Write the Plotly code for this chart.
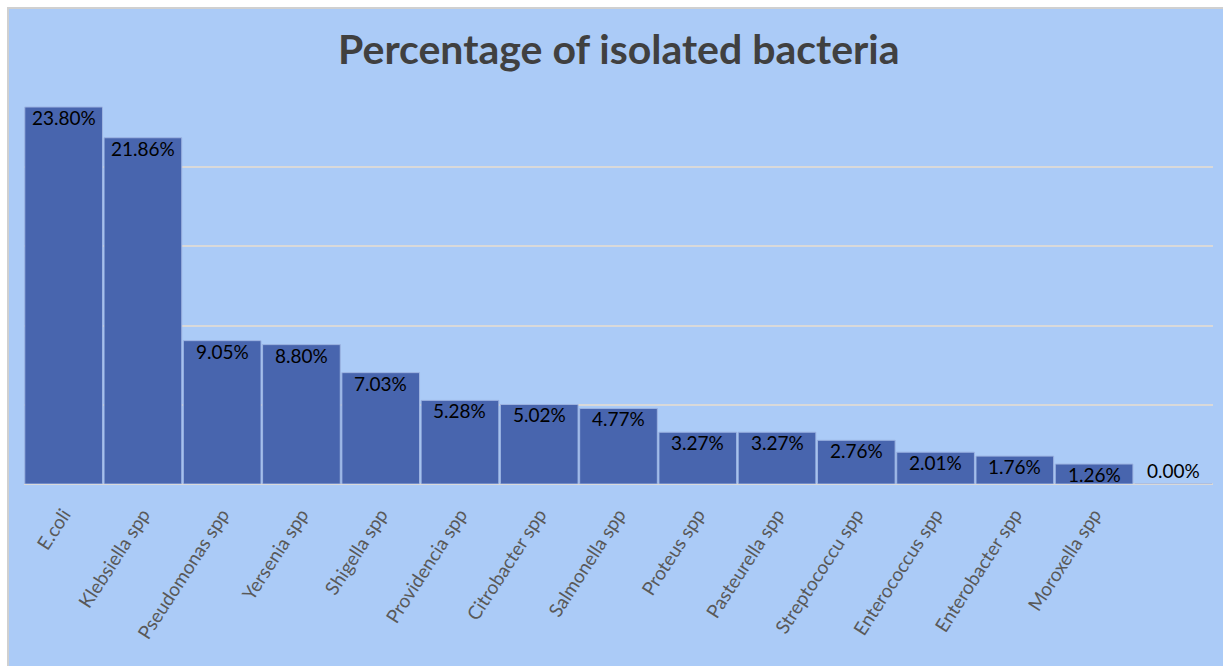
import plotly.graph_objects as go

# Isolated bacteria and their share of all isolates (%)
bacteria = [
    "E.coli", "Klebsiella spp", "Pseudomonas spp", "Yersenia spp", "Shigella spp",
    "Providencia spp", "Citrobacter spp", "Salmonella spp", "Proteus spp",
    "Pasteurella spp", "Streptococcu spp", "Enterococcus spp", "Enterobacter spp",
    "Moroxella spp", " ",
]
percentages = [23.80, 21.86, 9.05, 8.80, 7.03, 5.28, 5.02, 4.77, 3.27, 3.27,
               2.76, 2.01, 1.76, 1.26, 0.00]
y_ticks = [0, 5, 10, 15, 20, 25]

BG = "#ABCBF7"
BAR = "#4865AE"
FONT = "Lato, Calibri, Carlito, sans-serif"

fig = go.Figure()
fig.add_trace(go.Bar(
    x=bacteria,
    y=percentages,
    marker=dict(color=BAR, line=dict(color="#9DB4E2", width=1)),
    hoverinfo="x+y",
))

# Value labels: inside the top of each bar, above the axis for empty bars
for name, val in zip(bacteria, percentages):
    fig.add_annotation(
        x=name, y=val, xref="x", yref="y",
        text=f"{val:.2f}%",
        showarrow=False,
        yanchor="top" if val > 0 else "bottom",
        yshift=3 if val > 0 else 0,
        font=dict(family=FONT, size=19, color="#000000"),
    )

# Chart area panel with thin grey border
L, R, T, B = 24, 10, 88, 182
W, H = 1223, 666
pw, ph = W - L - R, H - T - B
fig.add_shape(
    type="rect", xref="paper", yref="paper", layer="below",
    x0=(8 - L) / pw, x1=(W + 2 - L) / pw,
    y0=-(B + 2) / ph, y1=(H - B - 8) / ph,
    fillcolor=BG, line=dict(color="#D0D0D0", width=2),
)

fig.update_layout(
    width=W, height=H,
    margin=dict(l=L, r=R, t=T, b=B),
    paper_bgcolor="#FFFFFF",
    plot_bgcolor="rgba(0,0,0,0)",
    bargap=0.02,
    showlegend=False,
    title=dict(
        text="<b>Percentage of isolated bacteria</b>",
        x=0.506, xanchor="center", y=0.925, yanchor="middle",
        font=dict(family=FONT, size=41, color="#404040"),
    ),
    xaxis=dict(
        tickangle=-57,
        tickfont=dict(family=FONT, size=19, color="#595959"),
        showgrid=False, showline=False,
        ticks="outside", ticklen=11, tickcolor="rgba(0,0,0,0)",
    ),
    yaxis=dict(
        range=[0, 25], tickvals=y_ticks, showticklabels=False,
        showgrid=True, gridcolor="#D9D9D9", gridwidth=2,
        zeroline=True, zerolinecolor="#D9D9D9", zerolinewidth=2,
        showline=False, ticks="",
    ),
)

fig.write_html("out.html")
